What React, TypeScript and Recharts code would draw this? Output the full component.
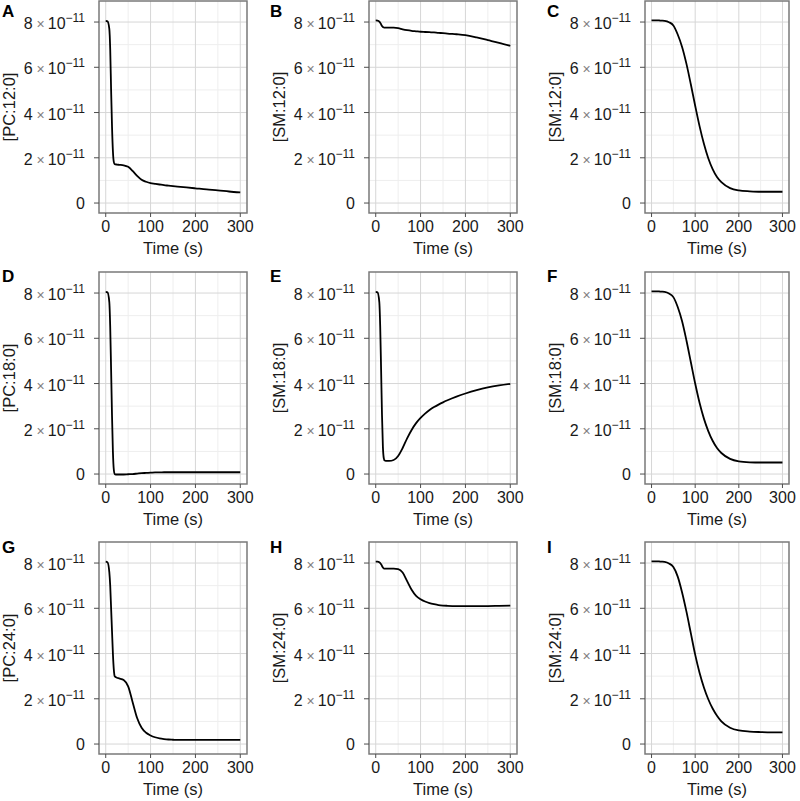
import { LineChart, Line, XAxis, YAxis, CartesianGrid, ReferenceArea } from "recharts";

// time grid (s), shared by every panel
const TIME = [0, 4, 8, 10, 12, 14, 16, 18, 20, 25, 30, 40, 50, 60, 70, 80, 90, 100, 110, 120, 130, 140, 150, 160, 180, 200, 225, 250, 275, 300];

// concentrations, in units of 1e-11
const pc12 = [8.05, 8.03, 7.7, 6.8, 5.0, 3.4, 2.3, 1.82, 1.72, 1.7, 1.69, 1.67, 1.6, 1.42, 1.2, 1.03, 0.94, 0.88, 0.85, 0.82, 0.79, 0.77, 0.75, 0.73, 0.69, 0.65, 0.6, 0.56, 0.51, 0.47];
const sm12 = [8.07, 8.06, 8.02, 7.97, 7.9, 7.82, 7.78, 7.76, 7.75, 7.75, 7.75, 7.75, 7.73, 7.68, 7.64, 7.61, 7.59, 7.57, 7.56, 7.55, 7.54, 7.52, 7.51, 7.49, 7.46, 7.42, 7.32, 7.2, 7.08, 6.95];
const sm12b = [8.07, 8.07, 8.07, 8.07, 8.07, 8.07, 8.07, 8.07, 8.06, 8.06, 8.05, 7.99, 7.85, 7.45, 6.9, 6.15, 5.25, 4.3, 3.4, 2.62, 1.98, 1.5, 1.15, 0.92, 0.66, 0.56, 0.52, 0.5, 0.5, 0.5];
const pc18 = [8.05, 8.03, 7.6, 6.5, 4.6, 2.6, 1.0, 0.2, 0.0, -0.02, -0.02, -0.02, -0.01, 0.0, 0.02, 0.04, 0.05, 0.06, 0.07, 0.07, 0.08, 0.08, 0.08, 0.08, 0.08, 0.08, 0.08, 0.08, 0.08, 0.08];
const sm18 = [8.05, 8.03, 7.6, 6.5, 4.6, 2.6, 1.2, 0.7, 0.6, 0.58, 0.58, 0.62, 0.8, 1.15, 1.58, 1.95, 2.25, 2.48, 2.67, 2.83, 2.96, 3.07, 3.17, 3.26, 3.42, 3.56, 3.71, 3.83, 3.92, 3.99];
const sm18b = [8.07, 8.07, 8.07, 8.07, 8.07, 8.07, 8.07, 8.07, 8.06, 8.06, 8.05, 7.98, 7.82, 7.38, 6.75, 5.9, 4.95, 4.0, 3.15, 2.45, 1.9, 1.47, 1.15, 0.93, 0.67, 0.56, 0.52, 0.51, 0.51, 0.51];
const pc24 = [8.06, 8.03, 7.6, 7.0, 6.0, 5.0, 4.0, 3.3, 3.0, 2.93, 2.9, 2.83, 2.55, 1.85, 1.15, 0.72, 0.5, 0.38, 0.3, 0.25, 0.22, 0.2, 0.19, 0.18, 0.18, 0.18, 0.18, 0.18, 0.18, 0.18];
const sm24 = [8.06, 8.06, 8.03, 8.0, 7.95, 7.87, 7.8, 7.76, 7.75, 7.75, 7.75, 7.75, 7.73, 7.58, 7.2, 6.82, 6.55, 6.4, 6.3, 6.23, 6.18, 6.14, 6.12, 6.11, 6.1, 6.1, 6.1, 6.1, 6.11, 6.12];
const sm24b = [8.07, 8.07, 8.07, 8.07, 8.07, 8.07, 8.07, 8.07, 8.06, 8.06, 8.05, 7.98, 7.82, 7.4, 6.7, 5.85, 4.9, 3.95, 3.15, 2.5, 1.98, 1.57, 1.25, 1.0, 0.72, 0.6, 0.55, 0.53, 0.52, 0.52];

const LETTERS = ["A", "B", "C", "D", "E", "F", "G", "H", "I"];
const Y_LABELS = ["[PC:12:0]", "[SM:12:0]", "[SM:12:0]", "[PC:18:0]", "[SM:18:0]", "[SM:18:0]", "[PC:24:0]", "[SM:24:0]", "[SM:24:0]"];
const SERIES = [pc12, sm12, sm12b, pc18, sm18, sm18b, pc24, sm24, sm24b];

const X_TICKS = [0, 100, 200, 300];
const X_MINOR = [50, 150, 250];
const Y_TICKS = [0, 2, 4, 6, 8];
const Y_MINOR = [1, 3, 5, 7];
const X_DOMAIN: [number, number] = [-15, 315];
const Y_DOMAIN: [number, number] = [-0.44, 8.93];

// layout
const COL_X = [0, 270, 540];
const ROW_Y = [0, 271, 541];
const PLOT_LEFT = [99, 99, 105];
const CHART_W = [270, 270, 260];
const PLOT_RIGHT = [247, 247, 249];
const CHART_H = 260;
const LETTER_X = [2, 270, 547];
const LETTER_Y = [17, 282, 553];

const TEXT = "#1a1a1a";

function YTick(props: any) {
  const { x, y, payload } = props;
  const v = payload.value;
  if (v === 0) {
    return (
      <text x={x} y={y} dy={6} textAnchor="end" fontSize={16} fill={TEXT}>
        0
      </text>
    );
  }
  return (
    <text x={x} y={y} dy={7} textAnchor="end" fontSize={16} fill={TEXT}>
      {v}
      <tspan dx={4} fontSize={14} fill="#808080">×</tspan>
      <tspan dx={3}>10</tspan>
      <tspan dy={-7} fontSize={12}>−11</tspan>
    </text>
  );
}

function Panel({ idx }: { idx: number }) {
  const col = idx % 3;
  const row = Math.floor(idx / 3);
  const values = SERIES[idx];
  const data = TIME.map((t, i) => ({ t, v: values[i] }));
  const left = PLOT_LEFT[col];
  return (
    <div style={{ position: "absolute", left: COL_X[col], top: ROW_Y[row] }}>
      <LineChart
        width={CHART_W[col]}
        height={CHART_H}
        data={data}
        margin={{ top: 1, right: CHART_W[col] - PLOT_RIGHT[col], left: 0, bottom: 0 }}
      >
        <CartesianGrid horizontalValues={Y_MINOR} verticalValues={X_MINOR} stroke="#eeeeee" strokeWidth={1} />
        <CartesianGrid horizontalValues={Y_TICKS} verticalValues={X_TICKS} stroke="#d6d6d6" strokeWidth={1} />
        <XAxis
          dataKey="t"
          type="number"
          domain={X_DOMAIN}
          ticks={X_TICKS}
          axisLine={false}
          tickLine={{ stroke: "#4d4d4d" }}
          tickSize={4}
          tickMargin={4}
          tick={{ fill: TEXT, fontSize: 16 }}
          height={CHART_H - 213}
          label={{ value: "Time (s)", position: "insideBottom", offset: 6, fill: TEXT, fontSize: 16.5 }}
        />
        <YAxis
          type="number"
          domain={Y_DOMAIN}
          ticks={Y_TICKS}
          axisLine={false}
          tickLine={{ stroke: "#4d4d4d" }}
          tickSize={5}
          tickMargin={9}
          tick={<YTick />}
          width={left}
          label={{
            value: Y_LABELS[idx],
            angle: -90,
            position: "insideLeft",
            offset: left - 90,
            fill: TEXT,
            fontSize: 16.5,
            style: { textAnchor: "middle" },
          }}
        />
        <Line
          type="monotone"
          dataKey="v"
          stroke="#000"
          strokeWidth={1.8}
          dot={false}
          isAnimationActive={false}
        />
        <ReferenceArea
          x1={X_DOMAIN[0]}
          x2={X_DOMAIN[1]}
          y1={Y_DOMAIN[0]}
          y2={Y_DOMAIN[1]}
          fill="none"
          stroke="#7a7a7a"
          strokeWidth={1.5}
        />
      </LineChart>
    </div>
  );
}

export default function App() {
  return (
    <div
      style={{
        position: "absolute",
        left: 0,
        top: 0,
        width: 800,
        height: 801,
        overflow: "hidden",
        background: "#fff",
        fontFamily: "'Liberation Sans', Arial, Helvetica, sans-serif",
      }}
    >
      {LETTERS.map((_, i) => (
        <Panel key={i} idx={i} />
      ))}
      <svg width={800} height={801} style={{ position: "absolute", left: 0, top: 0, pointerEvents: "none" }}>
        {LETTERS.map((l, i) => (
          <text
            key={l}
            x={LETTER_X[i % 3]}
            y={LETTER_Y[Math.floor(i / 3)]}
            fontSize={17}
            fontWeight="bold"
            fill="#000"
          >
            {l}
          </text>
        ))}
      </svg>
    </div>
  );
}
